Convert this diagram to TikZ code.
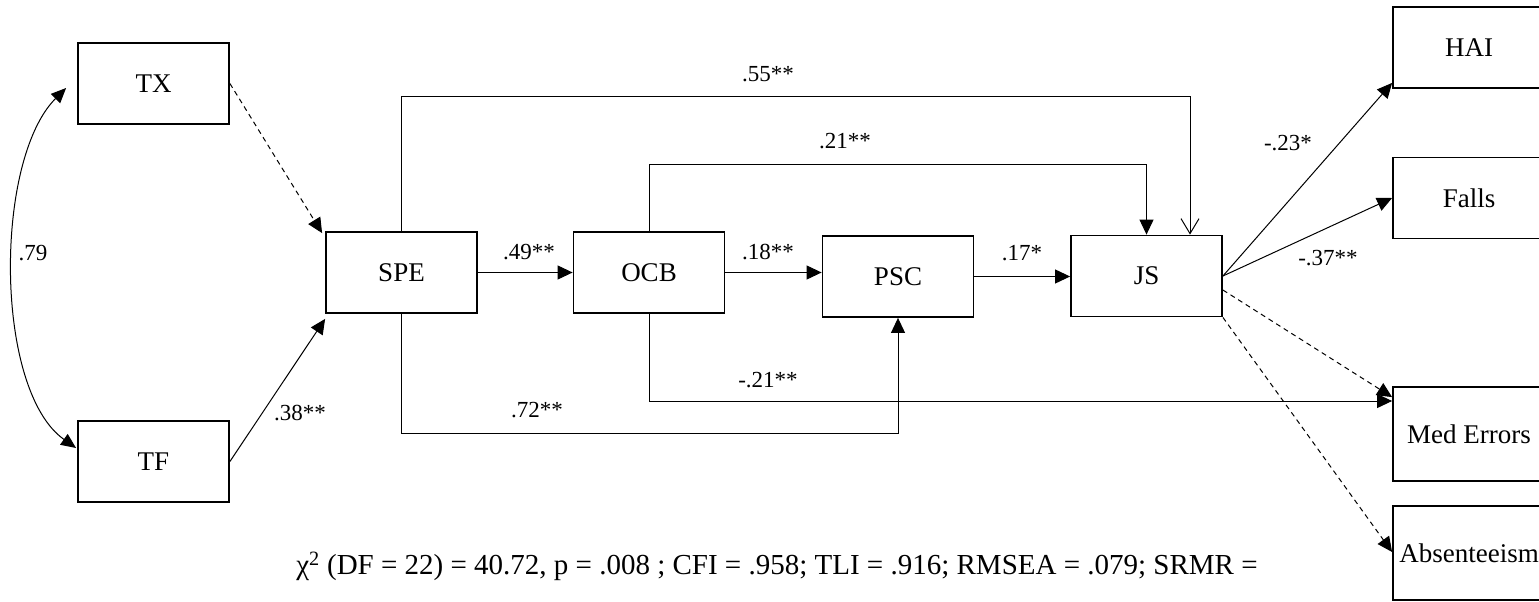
\documentclass[tikz,border=0pt]{standalone}
\usepackage{fontspec}
\setmainfont{Liberation Serif}
\usetikzlibrary{arrows.meta}

\begin{document}
\begin{tikzpicture}[x=1pt, y=-1pt]
    \tikzstyle{var} = [shape=rectangle, draw=black, line width=1.8pt, minimum width=151pt, minimum height=81pt, inner sep=0pt, font=\fontsize{27}{31}\selectfont]
    \tikzstyle{outc} = [var, minimum width=152pt]
    \tikzstyle{tall} = [outc, minimum height=94pt]
    \tikzstyle{lbl} = [inner sep=0pt, font=\fontsize{23}{27}\selectfont]
    \tikzstyle{path} = [line width=1pt, -{Triangle[length=15pt, width=14pt]}]
    \tikzstyle{dpath} = [path, dash pattern=on 5pt off 4pt]
    \useasboundingbox (0,0) rectangle (1539,602);

    % predictors
    \node (TX) [var] at (153.5,83.5)  {TX};
    \node (TF) [var] at (153.5,461.5) {TF};

    % mediators
    \node (SPE) [var] at (401.5,272.5) {SPE};
    \node (OCB) [var] at (649,272.5)   {OCB};
    \node (PSC) [var] at (898,276.5)   {PSC};
    \node (JS)  [var] at (1146.5,276)  {JS};

    % outcomes
    \node (HAI)   [outc] at (1469,47.5) {HAI};
    \node (Falls) [outc] at (1469,198)  {Falls};
    \node (MED)   [tall] at (1469,434)  {Med Errors};
    \node (ABS)   [tall] at (1469,553)  {Absenteeism};

    % correlation
    \draw [line width=1pt, {Triangle[length=15pt, width=13pt]}-{Triangle[length=15pt, width=13pt]}]
        ([xshift=-11pt, yshift=-4.5pt]TX.west) .. controls (-6,160) and (-6,390) .. ([xshift=-1pt, yshift=13.5pt]TF.west);
    \node (l79) [lbl] at (33,253) {.79};

    % paths into SPE
    \draw [dpath] (TX.east) -- ([xshift=-3pt, yshift=-2pt]SPE.north west);
    \draw [path]  (TF.east) -- ([yshift=-5pt]SPE.south west);
    \node (l38) [lbl] at (300,413) {.38**};

    % main chain
    \draw [path] (SPE.east) -- (OCB.west);
    \draw [path] (OCB.east) -- (PSC.west |- OCB.east);
    \draw [path] (PSC.east) -- (JS.west |- PSC.east);
    \node (l49) [lbl] at (529,252)  {.49**};
    \node (l18) [lbl] at (768,252)  {.18**};
    \node (l17) [lbl] at (1022,253) {.17*};

    % direct paths
    \draw [line width=1pt, -{Straight Barb[length=15pt, width=18pt]}] (SPE.north) -- ++(0,-135) -| ([xshift=43.5pt]JS.north);
    \node (l55) [lbl] at (768,74) {.55**};
    \draw [path] (OCB.north) -- ++(0,-67) -| (JS.north);
    \node (l21) [lbl] at (845,141) {.21**};
    \draw [path] (SPE.south) -- ++(0,119.5) -| (PSC.south);
    \node (l72) [lbl] at (537,410) {.72**};
    \draw [path] (OCB.south) |- ([yshift=33pt]MED.west);
    \node (lm21) [lbl] at (768,380) {-.21**};

    % outcomes of JS
    \draw [path]  (JS.east) -- ([yshift=6pt]HAI.south west);
    \draw [path]  (JS.east) -- (Falls.west);
    \draw [dpath] ([yshift=-14pt]JS.east) -- ([yshift=-11pt]MED.north west);
    \draw [dpath] (JS.south east) -- ([yshift=1pt]ABS.west);
    \node (l23) [lbl] at (1288,143) {-.23*};
    \node (l37) [lbl] at (1328,258) {-.37**};

    % fit
    \node (fit) [font=\fontsize{29}{33}\selectfont, inner sep=0pt] at (777,566)
        {χ\textsuperscript{2} (DF = 22) = 40.72, p = .008 ; CFI = .958; TLI = .916; RMSEA = .079; SRMR =};
\end{tikzpicture}
\end{document}
